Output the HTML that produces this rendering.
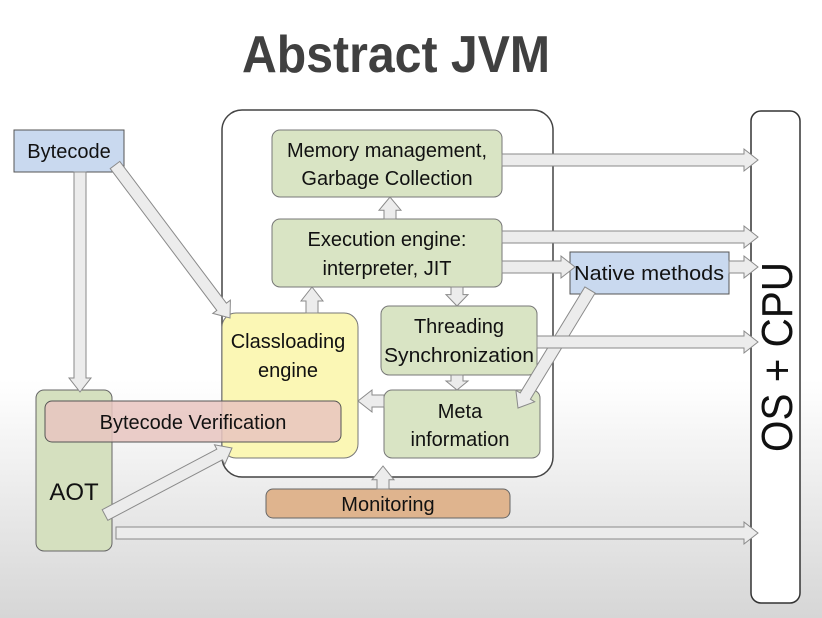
<!DOCTYPE html>
<html><head><meta charset="utf-8"><style>
html,body{margin:0;padding:0;}
body{width:822px;height:618px;overflow:hidden;background:linear-gradient(to bottom,#fff 0px,#fff 380px,#d6d6d6 618px);}
svg{position:absolute;left:0;top:0;}
text{font-family:"Liberation Sans",sans-serif;fill:#111;}
</style></head><body>
<svg width="822" height="618" viewBox="0 0 822 618" xmlns="http://www.w3.org/2000/svg">
<text x="396" y="72" text-anchor="middle" font-size="52" font-weight="bold" style="fill:#404040" textLength="308" lengthAdjust="spacingAndGlyphs">Abstract JVM</text>

<rect x="751" y="111" width="49" height="492" rx="10" fill="#fff" stroke="#333" stroke-width="1.5"/>
<text transform="translate(792,357) rotate(-90)" text-anchor="middle" font-size="44" textLength="190" lengthAdjust="spacingAndGlyphs">OS + CPU</text>

<rect x="222" y="110" width="331" height="367" rx="20" fill="#fff" stroke="#444" stroke-width="1.5"/>

<rect x="14" y="130" width="110" height="42" fill="#c9d9ef" stroke="#555"/>
<text x="69" y="158" text-anchor="middle" font-size="20">Bytecode</text>

<rect x="272" y="130" width="230" height="67" rx="8" fill="#d9e4c4" stroke="#777"/>
<text x="387" y="157" text-anchor="middle" font-size="20">Memory management,</text>
<text x="387" y="185" text-anchor="middle" font-size="20">Garbage Collection</text>

<rect x="272" y="219" width="230" height="68" rx="8" fill="#d9e4c4" stroke="#777"/>
<text x="387" y="246" text-anchor="middle" font-size="20">Execution engine:</text>
<text x="387" y="275" text-anchor="middle" font-size="20">interpreter, JIT</text>

<rect x="222" y="313" width="136" height="145" rx="14" fill="#fbf7b5" stroke="#777"/>
<text x="288" y="348" text-anchor="middle" font-size="20">Classloading</text>
<text x="288" y="377" text-anchor="middle" font-size="20">engine</text>

<rect x="381" y="306" width="156" height="69" rx="8" fill="#d9e4c4" stroke="#777"/>
<text x="459" y="333" text-anchor="middle" font-size="20">Threading</text>
<text x="459" y="362" text-anchor="middle" font-size="20" textLength="150" lengthAdjust="spacingAndGlyphs">Synchronization</text>

<rect x="384" y="390" width="156" height="68" rx="8" fill="#d9e4c4" stroke="#777"/>
<text x="460" y="418" text-anchor="middle" font-size="20">Meta</text>
<text x="460" y="446" text-anchor="middle" font-size="20">information</text>

<rect x="570" y="252" width="159" height="42" fill="#c9d9ef" stroke="#555"/>
<text x="649" y="280" text-anchor="middle" font-size="20" textLength="150" lengthAdjust="spacingAndGlyphs">Native methods</text>

<rect x="36" y="390" width="76" height="161" rx="8" fill="#d5e0bf" stroke="#666"/>
<text x="74" y="500" text-anchor="middle" font-size="24">AOT</text>

<rect x="45" y="401" width="296" height="41" rx="7" fill="#e8c4bf" fill-opacity="0.85" stroke="#555"/>
<text x="193" y="429" text-anchor="middle" font-size="20">Bytecode Verification</text>

<rect x="266" y="489" width="244" height="29" rx="7" fill="#dfb48e" stroke="#666"/>
<text x="388" y="511" text-anchor="middle" font-size="20">Monitoring</text>

<g id="arrows" fill="#ececec" stroke="#8a8a8a" stroke-width="1"></g>
</svg>
<script>
var A=[[80,172,80,392],[115,165,230,318],[390,219,390,197],[312,313,312,287],[457,287,457,306],[457,375,457,390],[384,401,358,401],[590,290,518,408],[383,489,383,466],[105,515,232,448],[116,533,758,533],[502,160,758,160],[502,237,758,237],[502,267,575,267],[729,267,758,267],[537,342,758,342]];
var g=document.getElementById('arrows');
A.forEach(function(a){
var x1=a[0],y1=a[1],x2=a[2],y2=a[3];var dx=x2-x1,dy=y2-y1,L=Math.sqrt(dx*dx+dy*dy);var ux=dx/L,uy=dy/L,nx=-uy,ny=ux;
var w=6,hw=11,hl=Math.min(14,L*0.6);var bx=x2-ux*hl,by=y2-uy*hl;
var p=[[x1+nx*w,y1+ny*w],[bx+nx*w,by+ny*w],[bx+nx*hw,by+ny*hw],[x2,y2],[bx-nx*hw,by-ny*hw],[bx-nx*w,by-ny*w],[x1-nx*w,y1-ny*w]];
var e=document.createElementNS('http://www.w3.org/2000/svg','polygon');
e.setAttribute('points',p.map(function(q){return q[0].toFixed(1)+','+q[1].toFixed(1)}).join(' '));
g.appendChild(e);});
</script>
</body></html>
